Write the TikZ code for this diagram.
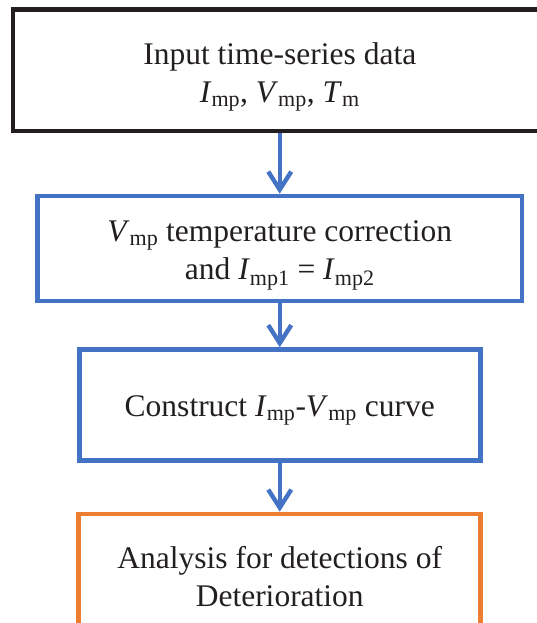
\documentclass[tikz,border=0pt]{standalone}
\usepackage{fontspec}
\setmainfont{Liberation Serif}
\usepackage{tikz}
\usetikzlibrary{arrows.meta}

\definecolor{flowblue}{HTML}{4472C4}
\definecolor{floworange}{HTML}{ED7D31}
\definecolor{flowblack}{HTML}{231F20}
\newcommand{\sbs}[1]{\textsubscript{#1}}
\newcommand{\topgap}[1]{\rule{0pt}{#1}}

\begin{document}
\begin{tikzpicture}[x=1pt, y=1pt,
  stage/.style = {draw, line width=4.6pt, inner sep=0pt, align=center,
    font=\fontsize{31.5}{38}\selectfont, text=flowblack},
  flow/.style = {draw=flowblue, line width=4.4pt,
    -{Straight Barb[length=18pt, width=23pt]}}]
\useasboundingbox (0,0) rectangle (536,623);
\node [stage, draw=flowblack, minimum width=533.5, minimum height=121.3] (input) at (279.75,552.6)
  {\topgap{35pt}Input time-series data\\ \textit{I}\sbs{mp}, \textit{V}\sbs{mp}, \textit{T}\sbs{m}};
\node [stage, draw=flowblue, minimum width=484.5, minimum height=105] (corr) at (279.75,374.5)
  {\topgap{35pt}\textit{V}\sbs{mp} temperature correction\\ and \textit{I}\sbs{mp1} = \textit{I}\sbs{mp2}};
\node [stage, draw=flowblue, minimum width=401, minimum height=111] (curve) at (279.75,218)
  {\topgap{31pt}Construct \textit{I}\sbs{mp}-\textit{V}\sbs{mp} curve};
\node [stage, draw=floworange, minimum width=402, minimum height=122] (analysis) at (279.75,48)
  {\topgap{25pt}Analysis for detections of\\ Deterioration};
\draw [flow] (input) -- (corr);
\draw [flow] (corr) -- (curve);
\draw [flow] (curve) -- (analysis);
\end{tikzpicture}
\end{document}
